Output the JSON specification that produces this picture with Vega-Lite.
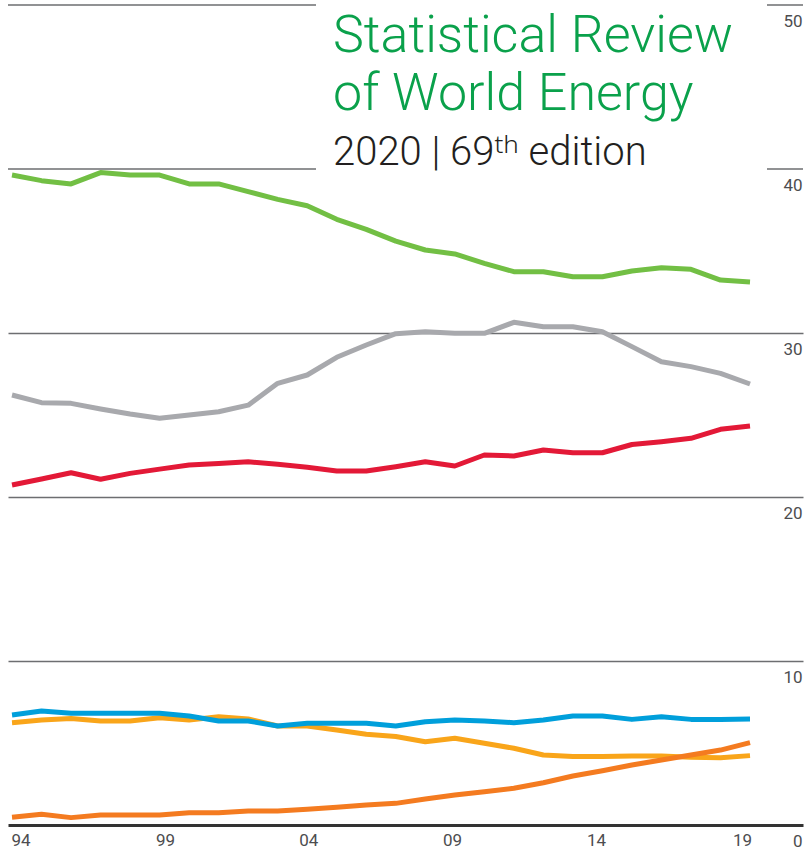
{
  "$schema": "https://vega.github.io/schema/vega-lite/v6.json",
  "width": 795,
  "height": 820,
  "autosize": {"type": "none"},
  "padding": {"left": 8, "top": 5, "right": 2, "bottom": 27},
  "background": "white",
  "config": {"view": {"stroke": null}, "font": "Roboto"},
  "title": {
    "text": ["Statistical Review", "of World Energy"],
    "subtitle": "2020 | 69ᵗʰ edition",
    "orient": "top",
    "anchor": "start",
    "frame": "group",
    "dx": 325,
    "dy": 170,
    "offset": 0,
    "font": "Roboto",
    "fontSize": 52,
    "fontWeight": 300,
    "lineHeight": 58,
    "color": "#0aa14b",
    "subtitleFont": "Roboto, DejaVu Sans, Noto Sans",
    "subtitleFontSize": 40,
    "subtitleFontWeight": 300,
    "subtitleColor": "#231f20",
    "subtitlePadding": 12
  },
  "datasets": {
    "shares": [
      {"year": 1994, "Oil": 39.63, "Coal": 26.22, "Natural gas": 20.73, "Nuclear energy": 6.24, "Hydroelectricity": 6.71, "Renewables": 0.47},
      {"year": 1995, "Oil": 39.29, "Coal": 25.75, "Natural gas": 21.1, "Nuclear energy": 6.4, "Hydroelectricity": 6.95, "Renewables": 0.65},
      {"year": 1996, "Oil": 39.09, "Coal": 25.71, "Natural gas": 21.48, "Nuclear energy": 6.5, "Hydroelectricity": 6.81, "Renewables": 0.45},
      {"year": 1997, "Oil": 39.78, "Coal": 25.37, "Natural gas": 21.08, "Nuclear energy": 6.34, "Hydroelectricity": 6.81, "Renewables": 0.61},
      {"year": 1998, "Oil": 39.63, "Coal": 25.06, "Natural gas": 21.44, "Nuclear energy": 6.34, "Hydroelectricity": 6.81, "Renewables": 0.61},
      {"year": 1999, "Oil": 39.63, "Coal": 24.8, "Natural gas": 21.7, "Nuclear energy": 6.54, "Hydroelectricity": 6.81, "Renewables": 0.61},
      {"year": 2000, "Oil": 39.09, "Coal": 25.0, "Natural gas": 21.95, "Nuclear energy": 6.4, "Hydroelectricity": 6.65, "Renewables": 0.75},
      {"year": 2001, "Oil": 39.09, "Coal": 25.2, "Natural gas": 22.05, "Nuclear energy": 6.6, "Hydroelectricity": 6.34, "Renewables": 0.75},
      {"year": 2002, "Oil": 38.62, "Coal": 25.6, "Natural gas": 22.15, "Nuclear energy": 6.46, "Hydroelectricity": 6.34, "Renewables": 0.85},
      {"year": 2003, "Oil": 38.15, "Coal": 26.93, "Natural gas": 22.0, "Nuclear energy": 6.04, "Hydroelectricity": 6.04, "Renewables": 0.85},
      {"year": 2004, "Oil": 37.76, "Coal": 27.44, "Natural gas": 21.81, "Nuclear energy": 6.04, "Hydroelectricity": 6.2, "Renewables": 0.96},
      {"year": 2005, "Oil": 36.93, "Coal": 28.52, "Natural gas": 21.59, "Nuclear energy": 5.79, "Hydroelectricity": 6.2, "Renewables": 1.08},
      {"year": 2006, "Oil": 36.32, "Coal": 29.27, "Natural gas": 21.59, "Nuclear energy": 5.53, "Hydroelectricity": 6.2, "Renewables": 1.22},
      {"year": 2007, "Oil": 35.6, "Coal": 29.96, "Natural gas": 21.85, "Nuclear energy": 5.4, "Hydroelectricity": 6.04, "Renewables": 1.32},
      {"year": 2008, "Oil": 35.06, "Coal": 30.08, "Natural gas": 22.15, "Nuclear energy": 5.08, "Hydroelectricity": 6.3, "Renewables": 1.59},
      {"year": 2009, "Oil": 34.82, "Coal": 29.98, "Natural gas": 21.89, "Nuclear energy": 5.29, "Hydroelectricity": 6.4, "Renewables": 1.83},
      {"year": 2010, "Oil": 34.25, "Coal": 29.98, "Natural gas": 22.56, "Nuclear energy": 4.98, "Hydroelectricity": 6.34, "Renewables": 2.03},
      {"year": 2011, "Oil": 33.74, "Coal": 30.65, "Natural gas": 22.5, "Nuclear energy": 4.68, "Hydroelectricity": 6.24, "Renewables": 2.24},
      {"year": 2012, "Oil": 33.74, "Coal": 30.38, "Natural gas": 22.87, "Nuclear energy": 4.27, "Hydroelectricity": 6.4, "Renewables": 2.58},
      {"year": 2013, "Oil": 33.43, "Coal": 30.38, "Natural gas": 22.7, "Nuclear energy": 4.17, "Hydroelectricity": 6.65, "Renewables": 2.99},
      {"year": 2014, "Oil": 33.43, "Coal": 30.08, "Natural gas": 22.7, "Nuclear energy": 4.17, "Hydroelectricity": 6.65, "Renewables": 3.31},
      {"year": 2015, "Oil": 33.78, "Coal": 29.17, "Natural gas": 23.2, "Nuclear energy": 4.2, "Hydroelectricity": 6.44, "Renewables": 3.66},
      {"year": 2016, "Oil": 33.98, "Coal": 28.25, "Natural gas": 23.37, "Nuclear energy": 4.2, "Hydroelectricity": 6.6, "Renewables": 3.96},
      {"year": 2017, "Oil": 33.88, "Coal": 27.95, "Natural gas": 23.58, "Nuclear energy": 4.13, "Hydroelectricity": 6.44, "Renewables": 4.27},
      {"year": 2018, "Oil": 33.23, "Coal": 27.54, "Natural gas": 24.13, "Nuclear energy": 4.1, "Hydroelectricity": 6.44, "Renewables": 4.57},
      {"year": 2019, "Oil": 33.11, "Coal": 26.89, "Natural gas": 24.33, "Nuclear energy": 4.23, "Hydroelectricity": 6.46, "Renewables": 5.02}
    ],
    "gridSegments": [
      {"level": 50, "start": 1993.864, "end": 2004.298},
      {"level": 50, "start": 2019.575, "end": 2020.795},
      {"level": 40, "start": 1993.864, "end": 2004.298},
      {"level": 40, "start": 2019.575, "end": 2020.795}
    ]
  },
  "layer": [
    {
      "data": {"name": "gridSegments"},
      "mark": {"type": "rule", "color": "#6d6e71", "strokeWidth": 1.5},
      "encoding": {
        "x": {
          "field": "start", "type": "quantitative", "title": null,
          "scale": {"domain": [1993.864, 2020.795], "nice": false, "zero": false},
          "axis": {
            "values": [1994, 1999, 2004, 2009, 2014, 2019],
            "format": "d",
            "labelExpr": "substring(datum.label, 2)",
            "title": null,
            "domain": false,
            "ticks": false,
            "grid": false,
            "labelPadding": 7,
            "labelFont": "Roboto",
            "labelFontSize": 17,
            "labelColor": "#4d4d4f",
            "labelOffset": {
              "condition": [
                {"test": "datum.value == 1994", "value": 8.5},
                {"test": "datum.value == 1999", "value": 5.4},
                {"test": "datum.value == 2004", "value": 1},
                {"test": "datum.value == 2009", "value": -2.8},
                {"test": "datum.value == 2014", "value": -6.4}
              ],
              "value": -8
            }
          }
        },
        "x2": {"field": "end"},
        "y": {
          "field": "level", "type": "quantitative", "title": null,
          "scale": {"domain": [0, 50], "nice": false},
          "axis": {
            "orient": "right",
            "values": [0, 10, 20, 30, 40, 50],
            "title": null,
            "domain": false,
            "ticks": false,
            "grid": true,
            "gridColor": {"condition": {"test": "datum.value == 0", "value": "#333333"}, "value": "#6d6e71"},
            "gridWidth": {"condition": {"test": "datum.value == 0", "value": 3}, "value": 1.5},
            "gridOpacity": {"condition": {"test": "datum.value >= 40", "value": 0}, "value": 1},
            "labelPadding": -1,
            "labelAlign": "right",
            "labelBaseline": "top",
            "labelOffset": 8,
            "labelFont": "Roboto",
            "labelFontSize": 17,
            "labelColor": "#4d4d4f"
          }
        }
      }
    },
    {
      "data": {"name": "shares"},
      "transform": [
        {"fold": ["Oil", "Coal", "Natural gas", "Nuclear energy", "Hydroelectricity", "Renewables"], "as": ["source", "share"]}
      ],
      "mark": {"type": "line", "strokeWidth": 5, "strokeJoin": "round"},
      "encoding": {
        "x": {"field": "year", "type": "quantitative", "title": null},
        "y": {"field": "share", "type": "quantitative", "title": null},
        "color": {
          "field": "source", "type": "nominal",
          "scale": {
            "domain": ["Oil", "Coal", "Natural gas", "Nuclear energy", "Hydroelectricity", "Renewables"],
            "range": ["#72bf44", "#a8a9ad", "#e31937", "#f9a51a", "#009fdb", "#f47b20"]
          },
          "legend": null
        }
      }
    }
  ]
}
